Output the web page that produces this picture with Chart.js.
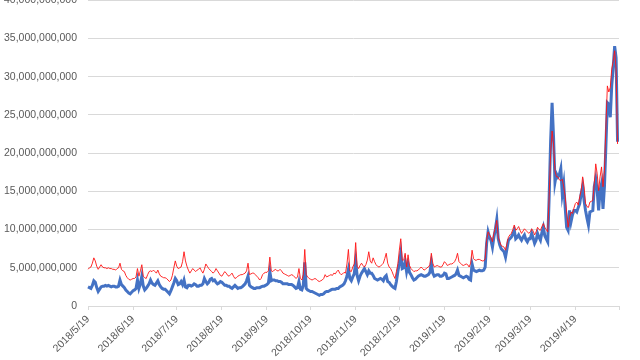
<!DOCTYPE html>
<html>
<head>
<meta charset="utf-8">
<script src="https://cdn.jsdelivr.net/npm/chart.js@4"></script>
<style>
  html, body { margin: 0; padding: 0; background: #fff; overflow: hidden; }
  #wrap { position: absolute; left: 0; top: -17px; width: 640px; height: 377px; }
</style>
</head>
<body>
<div id="wrap"><canvas id="chart"></canvas></div>
<script>
// daily values, in billions, starting 2018/5/19
const redSeries = [
  4.8, 5.0, 5.1, 5.6, 6.3, 5.9, 5.2, 4.8, 5.1, 5.4,
  5.1, 5.0, 5.0, 4.9, 5.0, 4.9, 4.9, 4.8, 4.8, 4.7,
  4.9, 5.0, 5.6, 4.8, 4.6, 4.5, 4.0, 3.7, 3.5, 3.4,
  3.5, 3.6, 3.6, 3.8, 4.9, 3.9, 4.6, 5.4, 3.9, 3.7,
  3.6, 4.1, 4.5, 4.6, 4.5, 4.7, 4.5, 4.3, 4.7, 4.2,
  3.9, 3.8, 3.7, 3.7, 3.6, 3.4, 3.2, 3.4, 4.0, 5.0,
  5.9, 5.2, 4.9, 5.0, 5.1, 5.8, 7.1, 5.9, 5.2, 4.7,
  4.3, 4.6, 4.9, 4.7, 4.5, 4.7, 4.8, 5.0, 4.6, 4.3,
  4.8, 5.5, 5.2, 4.9, 4.7, 4.5, 4.3, 4.5, 4.9, 4.6,
  4.3, 4.0, 3.9, 4.2, 4.5, 4.3, 4.0, 3.9, 4.1, 4.3,
  3.9, 3.6, 3.7, 3.9, 4.0, 4.1, 4.1, 4.2, 4.3, 4.6,
  5.6, 4.1, 4.2, 4.3, 4.3, 4.1, 3.9, 3.7, 3.4, 3.6,
  4.1, 4.3, 4.4, 4.4, 4.6, 6.4, 4.6, 4.5, 4.7, 4.8,
  4.6, 4.6, 4.8, 4.6, 4.3, 4.2, 4.1, 4.0, 3.9, 4.0,
  4.1, 4.0, 3.8, 3.6, 3.8, 4.9, 3.6, 3.4, 4.1, 7.4,
  4.1, 3.8, 3.6, 3.5, 3.4, 3.5, 3.6, 3.5, 3.3, 3.2,
  3.3, 3.4, 3.6, 4.1, 3.8, 3.9, 4.0, 4.1, 4.0, 4.3,
  4.2, 4.5, 4.7, 4.3, 4.1, 4.2, 4.4, 4.3, 5.5, 7.4,
  4.6, 4.5, 5.1, 5.5, 8.3, 5.2, 4.9, 5.3, 5.6, 5.3,
  5.1, 5.4, 6.0, 7.1, 5.9, 5.6, 6.3, 5.8, 5.4, 5.2,
  5.1, 5.2, 5.4, 5.6, 6.2, 6.9, 5.6, 5.1, 4.9, 4.5,
  4.0, 3.6, 4.5, 5.5, 7.3, 8.8, 6.0, 6.0, 6.9, 5.1,
  6.7, 5.3, 4.9, 4.7, 4.5, 4.6, 4.6, 4.7, 4.9, 5.1,
  4.9, 4.7, 4.8, 5.0, 5.1, 5.4, 6.9, 5.6, 5.1, 5.2,
  5.3, 5.2, 5.1, 5.1, 5.4, 5.8, 5.6, 5.3, 5.4, 5.5,
  5.5, 5.6, 5.8, 6.2, 6.9, 5.8, 5.6, 5.4, 5.3, 5.4,
  5.5, 5.4, 5.1, 5.6, 7.3, 6.2, 6.0, 6.0, 6.1, 6.1,
  6.0, 5.9, 5.9, 6.2, 8.6, 9.7, 9.3, 9.0, 8.4, 9.5,
  10.2, 11.2, 9.0, 8.4, 7.9, 7.8, 7.7, 7.3, 8.2, 9.0,
  9.3, 9.5, 10.0, 10.6, 9.9, 10.1, 10.4, 9.9, 9.5, 9.8,
  10.1, 9.9, 9.7, 9.5, 9.7, 10.1, 9.8, 9.3, 9.7, 10.3,
  10.0, 9.9, 10.4, 10.8, 10.3, 10.0, 9.7, 14.3, 19.9, 22.9,
  21.2, 17.7, 16.9, 16.9, 16.5, 16.4, 16.6, 15.6, 14.3, 12.3,
  10.3, 11.6, 12.3, 12.1, 12.8, 13.4, 13.6, 13.2, 14.3, 15.1,
  16.9, 15.6, 13.4, 13.0, 12.9, 13.6, 13.7, 13.8, 16.0, 18.6,
  17.3, 15.1, 16.9, 18.2, 15.6, 17.7, 23.5, 28.8, 28.0, 28.6,
  31.0, 32.0, 33.4, 31.0, 21.2
];

const blueSeries = [
  2.5, 2.4, 2.3, 2.7, 3.3, 3.1, 2.4, 1.9, 2.2, 2.5,
  2.6, 2.6, 2.7, 2.6, 2.7, 2.6, 2.5, 2.6, 2.6, 2.5,
  2.5, 2.6, 3.4, 2.8, 2.6, 2.4, 2.1, 1.9, 1.7, 1.6,
  1.8, 2.0, 2.1, 2.3, 3.4, 2.3, 2.9, 3.9, 2.6, 2.1,
  2.3, 2.6, 2.9, 3.4, 3.0, 2.8, 2.7, 3.0, 3.3, 2.8,
  2.5, 2.3, 2.2, 2.2, 2.0, 1.8, 1.6, 2.0, 2.5, 3.0,
  3.6, 3.3, 2.8, 2.9, 3.2, 2.8, 3.4, 2.5, 2.4, 2.7,
  2.7, 2.6, 2.7, 2.9, 2.8, 2.6, 2.6, 2.7, 2.7, 2.9,
  3.6, 3.2, 2.9, 3.1, 3.5, 3.6, 3.3, 3.4, 3.1, 2.9,
  3.0, 3.2, 3.1, 2.9, 2.7, 2.7, 2.6, 2.6, 2.4, 2.3,
  2.5, 2.7, 2.5, 2.3, 2.4, 2.4, 2.5, 2.7, 2.9, 3.3,
  3.9, 2.7, 2.5, 2.4, 2.3, 2.3, 2.4, 2.4, 2.4, 2.5,
  2.6, 2.6, 2.7, 2.8, 3.0, 4.5, 3.3, 3.4, 3.4, 3.3,
  3.3, 3.2, 3.2, 3.1, 2.9, 2.9, 2.9, 2.9, 2.8, 2.8,
  2.8, 2.7, 2.5, 2.3, 2.4, 3.2, 2.2, 2.1, 2.7, 5.7,
  2.3, 2.1, 2.0, 1.9, 1.9, 1.8, 1.7, 1.6, 1.5, 1.4,
  1.5, 1.5, 1.6, 1.8, 1.9, 1.9, 2.0, 2.1, 2.2, 2.2,
  2.2, 2.3, 2.3, 2.5, 2.6, 2.7, 2.9, 3.3, 3.9, 4.8,
  3.6, 3.3, 3.8, 4.2, 5.8, 4.0, 3.3, 3.9, 4.3, 4.6,
  4.9, 4.5, 4.1, 4.6, 4.3, 4.3, 4.0, 3.6, 3.5, 3.4,
  3.5, 3.6, 3.5, 3.3, 3.8, 4.0, 3.2, 3.1, 2.8, 2.6,
  2.4, 2.3, 3.2, 4.5, 5.6, 6.9, 4.9, 5.0, 5.8, 4.5,
  5.4, 4.4, 4.1, 3.7, 3.4, 3.5, 3.7, 3.9, 4.0, 4.1,
  4.0, 3.9, 3.9, 4.0, 4.1, 4.4, 5.6, 4.3, 3.9, 4.0,
  4.1, 4.1, 3.9, 3.9, 4.0, 4.3, 4.2, 3.6, 3.6, 3.7,
  3.8, 3.9, 4.0, 4.2, 4.7, 4.0, 3.9, 3.8, 3.7, 3.8,
  3.9, 3.8, 3.5, 3.4, 5.5, 4.7, 4.6, 4.5, 4.6, 4.7,
  4.6, 4.6, 4.7, 5.1, 8.2, 9.7, 9.0, 8.6, 7.7, 9.0,
  10.0, 11.3, 8.8, 8.0, 7.5, 7.3, 7.1, 6.4, 7.5, 8.6,
  8.8, 9.0, 9.4, 9.9, 8.8, 9.0, 9.3, 8.9, 8.6, 9.0,
  9.3, 8.7, 8.4, 8.8, 8.8, 9.5, 8.9, 8.2, 8.6, 9.5,
  9.0, 8.6, 9.6, 10.3, 9.2, 8.8, 8.4, 14.3, 21.6, 26.6,
  22.1, 16.2, 17.3, 16.9, 17.2, 18.0, 14.7, 16.0, 12.9, 10.3,
  9.9, 12.5, 11.0, 11.9, 12.5, 12.5, 12.3, 12.9, 13.4, 14.7,
  15.6, 13.8, 12.5, 11.5, 10.6, 12.3, 12.4, 12.5, 15.6, 16.6,
  15.1, 12.5, 15.1, 16.0, 12.7, 15.6, 21.0, 26.6, 26.4, 24.7,
  28.8, 31.2, 34.0, 32.5, 21.5
];

const UNIT = 1e9;
const yTicks = [0, 5, 10, 15, 20, 25, 30, 35, 40];

// one category per day, 2018/5/19 .. 2019/5/19
const dayLabels = [];
const start = Date.UTC(2018, 4, 19);
for (let i = 0; i < 366; i++) {
    const d = new Date(start + i * 86400000);
    dayLabels.push(d.getUTCFullYear() + '/' + (d.getUTCMonth() + 1) + '/' + d.getUTCDate());
}

function isMonthTick(i) {
    return dayLabels[i] && dayLabels[i].endsWith('/19');
}

const ctx = document.getElementById('chart').getContext('2d');
new Chart(ctx, {
    type: 'line',
    data: {
        labels: dayLabels,
        datasets: [{
            data: redSeries.map(v => v * UNIT),
            borderColor: 'rgba(255, 20, 20, 0.9)',
            borderWidth: 1,
            pointRadius: 0,
            tension: 0,
            order: 0
        }, {
            data: blueSeries.map(v => v * UNIT),
            borderColor: '#4472C4',
            borderWidth: 3,
            pointRadius: 0,
            tension: 0,
            order: 1
        }]
    },
    options: {
        responsive: true,
        maintainAspectRatio: false,
        animation: false,
        layout: { padding: { left: 0, right: 21, top: 0, bottom: 0 } },
        plugins: {
            legend: { display: false },
            tooltip: { enabled: false }
        },
        scales: {
            x: {
                offset: false,
                grid: {
                    drawOnChartArea: false,
                    tickLength: 4,
                    color: c => isMonthTick(c.index) ? '#d9d9d9' : 'rgba(0,0,0,0)'
                },
                border: { color: '#d9d9d9' },
                ticks: {
                    autoSkip: false,
                    minRotation: 45,
                    maxRotation: 45,
                    color: '#595959',
                    font: { family: 'Liberation Sans', size: 10.5 },
                    callback: function(value, index) {
                        return (isMonthTick(index) && index < 365) ? dayLabels[index] : '';
                    }
                },
                afterFit: function(scale) { scale.height = 54; }
            },
            y: {
                min: 0,
                max: 40 * UNIT,
                afterBuildTicks: function(scale) {
                    scale.ticks = yTicks.map(v => ({ value: v * UNIT }));
                },
                grid: { color: '#d9d9d9', drawTicks: false },
                border: { display: false },
                ticks: {
                    padding: 11,
                    color: '#595959',
                    font: { family: 'Liberation Sans', size: 10.5 },
                    callback: v => v.toLocaleString('en-US')
                },
                afterFit: function(scale) { scale.width = 88; }
            }
        }
    }
});
</script>
</body>
</html>
